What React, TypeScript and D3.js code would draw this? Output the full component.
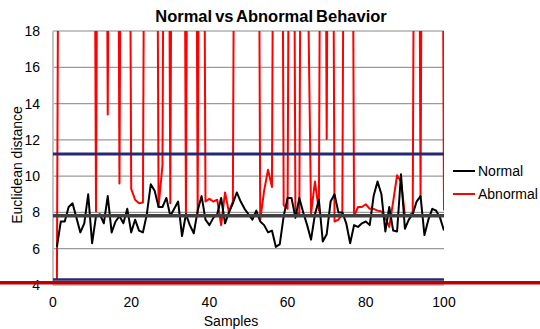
import React, { useEffect, useRef } from 'react';
import * as d3 from 'd3';

// samples 1..100
const samples = d3.range(1, 101);

// Euclidean distance, normal behaviour
const normalValues = [
  6.1, 7.5, 7.5, 8.3, 8.5, 7.7, 6.9, 7.4, 9.0, 6.3,
  7.8, 7.9, 7.4, 8.9, 6.9, 7.5, 7.8, 7.4, 8.2, 6.9,
  7.6, 7.0, 6.9, 7.9, 9.55, 9.2, 8.3, 8.3, 8.8, 7.8,
  8.2, 8.6, 6.7, 7.9, 7.3, 6.85, 8.1, 8.9, 7.6, 7.3,
  7.7, 7.9, 8.8, 7.4, 8.0, 8.5, 9.1, 8.6, 8.2, 7.9,
  7.6, 8.1, 7.5, 7.3, 6.9, 7.0, 6.1, 6.25, 7.8, 8.8,
  8.8, 7.7, 8.8, 8.0, 7.3, 6.5, 7.9, 8.7, 6.4, 6.8,
  8.6, 9.0, 8.0, 8.0, 7.4, 6.3, 7.3, 7.2, 7.4, 7.5,
  7.3, 8.9, 9.7, 9.0, 6.95, 8.3, 7.0, 6.95, 10.1, 7.1,
  7.6, 7.9, 8.6, 8.9, 6.75, 7.6, 8.2, 8.1, 7.7, 7.0
];

// Euclidean distance, abnormal behaviour (many points far above the axis max)
const abnormalValues = [
  4.3, 60, 60, 60, 60, 60, 60, 60, 60, 60,
  8.05, 60, 60, 13.4, 60, 60, 9.6, 60, 60, 9.3,
  8.7, 8.5, 8.55, 60, 60, 60, 8.3, 10.6, 60, 8.5,
  60, 60, 60, 7.9, 60, 60, 7.95, 60, 8.6, 8.75,
  8.6, 8.7, 7.3, 9.1, 8.0, 8.6, 60, 60, 60, 60,
  60, 60, 7.6, 9.2, 10.35, 9.4, 60, 60, 8.4, 8.2,
  60, 8.0, 7.9, 60, 24, 7.95, 9.7, 8.1, 60, 12.05,
  60, 7.5, 7.6, 7.9, 60, 60, 7.8, 8.3, 8.3, 8.45,
  8.2, 8.2, 8.1, 8.05, 7.7, 7.2, 8.6, 10.05, 9.7, 7.85,
  7.8, 8.0, 60, 8.8, 60, 60, 60, 60, 60, 8.1
];

const yTicks = [4, 6, 8, 10, 12, 14, 16, 18];
const xTicks = [0, 20, 40, 60, 80, 100];

// threshold lines
const refValues = [11.22, 7.82, 4.31];
const refColors = ['#28286e', '#404040', '#28286e'];
const refWidths = [3, 3.5, 2.5];
const baseValue = 4.13;

const legendNames = ['Normal', 'Abnormal'];
const legendColors = ['#000000', '#ff0000'];

const App = () => {
  const svgRef = useRef(null);
  const width = 540;
  const height = 329;

  useEffect(() => {
    const svg = d3.select(svgRef.current);
    svg.selectAll('*').remove();

    const font = 'Liberation Sans, Arial, sans-serif';
    const x = d3.scaleLinear().domain([0, 100]).range([53, 444]);
    const y = d3.scaleLinear().domain([4, 18]).range([285, 31]);

    svg.append('defs').append('clipPath').attr('id', 'plot-clip')
      .append('rect')
      .attr('x', x(0)).attr('y', y(18))
      .attr('width', x(100) - x(0)).attr('height', y(4) - y(18));

    // gridlines
    svg.append('g')
      .selectAll('line')
      .data(yTicks)
      .enter().append('line')
      .attr('x1', x(0)).attr('x2', x(100))
      .attr('y1', d => y(d)).attr('y2', d => y(d))
      .attr('stroke', d => (d === 18 || d === 4) ? '#c4c4c4' : '#9a9a9a')
      .attr('stroke-width', d => (d === 18 || d === 4) ? 2 : 1.3);

    svg.append('line')
      .attr('x1', x(0)).attr('x2', x(0))
      .attr('y1', y(18)).attr('y2', y(4))
      .attr('stroke', '#c4c4c4').attr('stroke-width', 2);

    // y tick labels
    svg.append('g')
      .selectAll('text')
      .data(yTicks)
      .enter().append('text')
      .attr('x', 40).attr('y', d => y(d) + 5)
      .attr('text-anchor', 'end')
      .attr('font-family', font).attr('font-size', 14)
      .text(d => d);

    // x tick labels
    svg.append('g')
      .selectAll('text')
      .data(xTicks)
      .enter().append('text')
      .attr('x', d => x(d)).attr('y', 307)
      .attr('text-anchor', 'middle')
      .attr('font-family', font).attr('font-size', 14)
      .text(d => d);

    const plot = svg.append('g').attr('clip-path', 'url(#plot-clip)');

    const line = d3.line<number>()
      .x((d, i) => x(samples[i]))
      .y(d => y(d));

    plot.append('path')
      .datum(abnormalValues)
      .attr('d', line)
      .attr('fill', 'none')
      .attr('stroke', '#ff0000')
      .attr('stroke-width', 2)
      .attr('stroke-linejoin', 'round');

    plot.append('path')
      .datum(normalValues)
      .attr('d', line)
      .attr('fill', 'none')
      .attr('stroke', '#000000')
      .attr('stroke-width', 2)
      .attr('stroke-linejoin', 'round');

    // threshold lines
    svg.append('g')
      .selectAll('line')
      .data(refValues)
      .enter().append('line')
      .attr('x1', x(0)).attr('x2', x(100))
      .attr('y1', d => y(d)).attr('y2', d => y(d))
      .attr('stroke', (d, i) => refColors[i])
      .attr('stroke-width', (d, i) => refWidths[i]);

    svg.append('line')
      .attr('x1', 0).attr('x2', width)
      .attr('y1', y(baseValue)).attr('y2', y(baseValue))
      .attr('stroke', '#c00000').attr('stroke-width', 3.5);

    // title
    svg.append('text')
      .attr('x', 271).attr('y', 22)
      .attr('text-anchor', 'middle')
      .attr('font-family', font).attr('font-size', 16.5).attr('font-weight', 'bold')
      .attr('word-spacing', -1.5)
      .text('Normal vs Abnormal Behavior');

    // axis titles
    svg.append('text')
      .attr('transform', `translate(22, 165) rotate(-90)`)
      .attr('text-anchor', 'middle')
      .attr('font-family', font).attr('font-size', 14)
      .text('Euclidean distance');

    svg.append('text')
      .attr('x', 231).attr('y', 326)
      .attr('text-anchor', 'middle')
      .attr('font-family', font).attr('font-size', 14)
      .text('Samples');

    // legend
    const legend = svg.append('g')
      .selectAll('g')
      .data(legendNames)
      .enter().append('g')
      .attr('transform', (d, i) => `translate(453, ${171 + i * 23})`);

    legend.append('line')
      .attr('x1', 0).attr('x2', 22)
      .attr('stroke', (d, i) => legendColors[i])
      .attr('stroke-width', 2);

    legend.append('text')
      .attr('x', 25).attr('y', 5)
      .attr('font-family', font).attr('font-size', 14)
      .text(d => d);
  }, []);

  return (
    <svg ref={svgRef} width={width} height={height}
      style={{ position: 'absolute', left: 0, top: 0, background: '#fff' }} />
  );
};

export default App;
